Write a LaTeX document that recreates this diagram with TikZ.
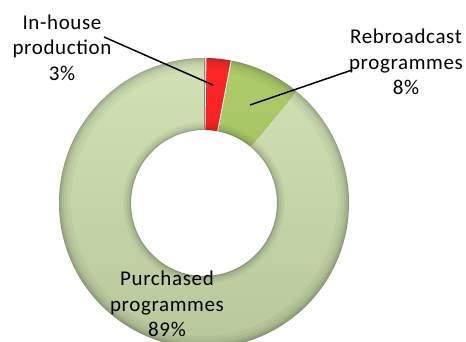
\documentclass[tikz,border=0pt]{standalone}
\usepackage{fontspec}
\setmainfont{Carlito}[LetterSpace=3]
\definecolor{purch}{HTML}{CDDFAD}
\definecolor{inred}{HTML}{FF1010}
\definecolor{rebro}{HTML}{A6C85A}
\tikzset{
  lbl/.style={align=center, inner sep=0pt, font=\fontsize{21}{25.5}\selectfont},
  leader/.style={line width=1.5pt, black},
}
\newcommand{\ringsector}[3]{%
  \foreach \ra/\rb/\dk in {73/145/30,74/144/20,75/142/13,77/140/8,79/137/4,81/133/0}{
    \fill[#3!\the\numexpr100-\dk\relax!black, shift={(c)}] (#1:\ra) arc[start angle=#1, end angle=#2, radius=\ra] -- (#2:\rb) arc[start angle=#2, end angle=#1, radius=\rb] -- cycle;
  }
  \draw[white, line width=0.8pt, shift={(c)}] (#1:73) -- (#1:145);
}
\begin{document}
\begin{tikzpicture}[x=1pt,y=1pt]
\useasboundingbox (0,0) rectangle (466,342);
\clip (0,0) rectangle (466,342);
\coordinate (c) at (204,139);
% slices
\ringsector{50.4}{-270}{purch}
\ringsector{89.2}{79.2}{inred}
\ringsector{79.2}{50.4}{rebro}
\draw[black!50, line width=1pt, shift={(c)}] (90:73) -- (90:145);
% soft light/dark overlay
\begin{scope}
  \clip[shift={(c)}] (0:145) arc[start angle=0, end angle=360, radius=145] -- (0:73) arc[start angle=360, end angle=0, radius=73] -- cycle;
  \shade[top color=white, bottom color=black, opacity=0.10] (59,-6) rectangle (349,284);
\end{scope}
% labels
\node[lbl] (inh) at (62,294.5) {In-house\\production\\3\%};
\node[lbl] (reb) at (406,280) {Rebroadcast\\programmes\\8\%};
\node[lbl] (pur) at (167,38) {Purchased\\programmes\\89\%};
% leader lines
\coordinate (inhs) at (104,305);
\coordinate (inhe) at (213,257);
\coordinate (rebs) at (352,272);
\coordinate (rebe) at (250,237);
\draw[leader] (inhs) -- (inhe);
\draw[leader] (rebs) -- (rebe);
\end{tikzpicture}
\end{document}
